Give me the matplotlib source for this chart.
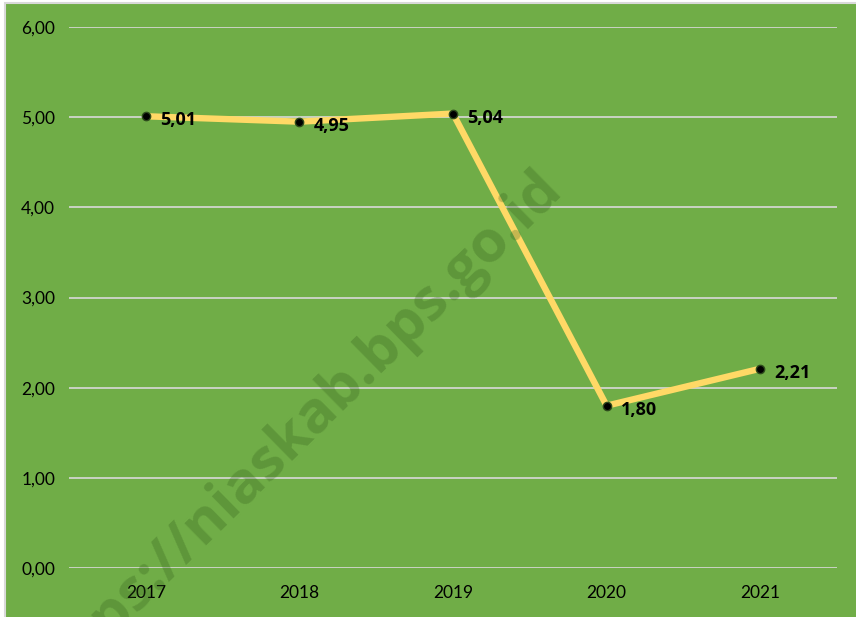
import matplotlib.pyplot as plt
from matplotlib.patches import Rectangle

# ---------------- DATA ----------------
years = ["2017", "2018", "2019", "2020", "2021"]
values = [5.01, 4.95, 5.04, 1.80, 2.21]
y_ticks = [0, 1, 2, 3, 4, 5, 6]
watermark = "https://niaskab.bps.go.id"
# --------------------------------------

GREEN = "#70AD47"
YELLOW = "#FFD966"
GRID = "#D9D9D9"

plt.rcParams["font.family"] = ["Lato", "DejaVu Sans"]
BOLD_FONT = ["Open Sans", "DejaVu Sans"]

fig = plt.figure(figsize=(8.56, 6.17), dpi=100)
fig.patch.set_facecolor("white")

# chart background with light border at left / top
bg = Rectangle((4.5 / 856, -0.01), 1.0, 1 - 3.5 / 617 + 0.01,
               transform=fig.transFigure, facecolor=GREEN,
               edgecolor=GRID, linewidth=1.5, zorder=0)
fig.add_artist(bg)

ax = fig.add_axes([69 / 856, 49 / 617, 768 / 856, 541 / 617])
ax.set_facecolor("none")

x = list(range(len(years)))
ax.plot(x, values, color=YELLOW, linewidth=4.6, solid_capstyle="round",
        solid_joinstyle="round", zorder=3)
ax.plot(x, values, linestyle="none", marker="o", markersize=6,
        markerfacecolor="black", markeredgecolor="#2d4a1c", zorder=4)

for xi, v in zip(x, values):
    ax.annotate(f"{v:.2f}".replace(".", ","), (xi, v), xytext=(10, -3),
                textcoords="offset points", ha="left", va="center",
                fontsize=13, fontweight="bold", family=BOLD_FONT,
                color="black", zorder=5)

ax.set_xlim(-0.5, len(years) - 0.5)
ax.set_ylim(0, 6)
ax.set_yticks(y_ticks)
ax.set_yticklabels([f"{t:.2f}".replace(".", ",") for t in y_ticks])
ax.set_xticks(x)
ax.set_xticklabels(years)
ax.tick_params(length=0, labelsize=12.5, colors="black")
ax.tick_params(axis="y", pad=10)
ax.tick_params(axis="x", pad=12)
ax.grid(axis="y", color=GRID, linewidth=1.2, zorder=1)
ax.set_axisbelow(True)
for s in ax.spines.values():
    s.set_visible(False)

# faint watermark (partly runs off the bottom, as in the original)
fig.text(294 / 856, 1 - 434 / 617, watermark, rotation=44.5, fontsize=42,
         fontweight="bold", family=BOLD_FONT, color="#2f5a18", alpha=0.28,
         ha="center", va="center", rotation_mode="anchor", zorder=10)

fig.savefig("out.png", dpi=100)
